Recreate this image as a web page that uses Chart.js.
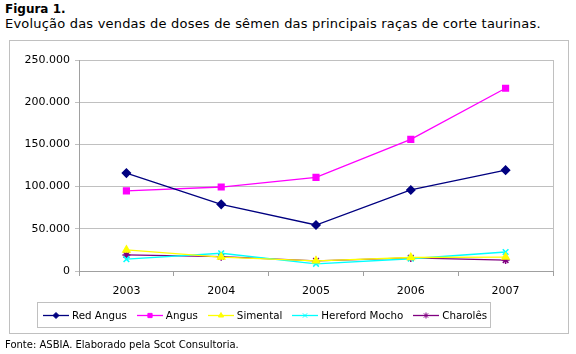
<!DOCTYPE html>
<html>
<head>
<meta charset="utf-8">
<script src="https://cdn.jsdelivr.net/npm/chart.js@4"></script>
<style>
  body { margin: 0; width: 576px; height: 354px; background: #fff; font-family: "DejaVu Sans", Verdana, sans-serif; color: #000; position: relative; overflow: hidden; }
  #t1 { position: absolute; left: 5px; top: 2px; font-size: 12px; font-weight: bold; }
  #t2 { position: absolute; left: 5px; top: 16px; font-size: 13px; letter-spacing: 0.2px; white-space: nowrap; }
  #box { position: absolute; left: 9px; top: 40px; width: 560px; height: 294px; border: 1px solid #c0c0c0; box-sizing: border-box; }
  #chart { position: absolute; left: 0; top: 0; }
  #legend { position: absolute; left: 37px; top: 302px; width: 454px; height: 26px; border: 1px solid #c0c0c0; box-sizing: border-box; font-size: 10.3px; display: flex; align-items: center; padding-left: 5px; white-space: nowrap; }
  #legend span.item { display: inline-flex; align-items: center; margin-right: 10px; flex-shrink: 0; }
  #legend canvas { margin-right: 3px; }
  #src { position: absolute; left: 5px; top: 339px; font-size: 10px; white-space: nowrap; }
</style>
</head>
<body>
<div id="t1">Figura 1.</div>
<div id="t2">Evolução das vendas de doses de sêmen das principais raças de corte taurinas.</div>
<div id="box"><canvas id="chart" width="558" height="292"></canvas></div>
<div id="legend"></div>
<div id="src">Fonte: ASBIA. Elaborado pela Scot Consultoria.</div>
<script>
const years = ['2003', '2004', '2005', '2006', '2007'];
const redAngus = [116000, 79000, 54500, 96000, 119500];
const angus = [95000, 99500, 111000, 156000, 216500];
const simental = [25000, 16500, 12000, 16000, 16500];
const herefordMocho = [14000, 21000, 8500, 14500, 22500];
const charoles = [19000, 17000, 12000, 15500, 13000];
const yTicks = [0, 50000, 100000, 150000, 200000, 250000];

const fmt = v => String(v).replace(/\B(?=(\d{3})+(?!\d))/g, '.');

const series = [
  { label: 'Red Angus', data: redAngus, color: '#000080', style: 'rectRot', r: 4 },
  { label: 'Angus', data: angus, color: '#ff00ff', style: 'rect', r: 4 },
  { label: 'Simental', data: simental, color: '#ffff00', style: 'triangle', r: 4 },
  { label: 'Hereford Mocho', data: herefordMocho, color: '#00ffff', style: 'crossRot', r: 4 },
  { label: 'Charolês', data: charoles, color: '#800080', style: 'star', r: 4 },
];

const plotFrame = {
  id: 'plotFrame',
  afterDraw(chart) {
    const a = chart.chartArea, ctx = chart.ctx;
    ctx.save();
    ctx.strokeStyle = '#c0c0c0';
    ctx.lineWidth = 1;
    ctx.beginPath();
    ctx.moveTo(Math.round(a.right) + 0.5, a.top);
    ctx.lineTo(Math.round(a.right) + 0.5, a.bottom);
    ctx.stroke();
    ctx.restore();
  }
};

const chart = new Chart(document.getElementById('chart'), {
  type: 'line',
  data: {
    labels: years,
    datasets: series.map(s => ({
      label: s.label,
      data: s.data,
      borderColor: s.color,
      backgroundColor: s.color,
      pointBorderColor: s.color,
      pointBackgroundColor: s.color,
      pointStyle: s.style,
      pointRadius: s.r,
      pointBorderWidth: 1.5,
      borderWidth: 1.3,
      tension: 0,
      fill: false,
    })),
  },
  options: {
    responsive: false,
    animation: false,
    layout: { padding: { top: 19, right: 15, left: 0, bottom: 0 } },
    plugins: { legend: { display: false }, tooltip: { enabled: false } },
    scales: {
      x: {
        offset: true,
        afterFit: s => { s.height = 62; },
        grid: { drawOnChartArea: false, offset: true, color: '#a0a0a0', tickLength: 5 },
        border: { color: '#a0a0a0' },
        ticks: { color: '#000', font: { family: 'DejaVu Sans', size: 11 }, padding: 9 },
      },
      y: {
        min: 0,
        max: 250000,
        afterFit: s => { s.width = 69; },
        afterBuildTicks: s => { s.ticks = yTicks.map(v => ({ value: v })); },
        grid: { color: '#c0c0c0', tickLength: 4 },
        border: { color: '#a0a0a0' },
        ticks: { color: '#000', font: { family: 'DejaVu Sans', size: 11 }, padding: 5, callback: v => fmt(v) },
      },
    },
  },
  plugins: [plotFrame],
});

// legend in a box, icons drawn with Chart.js's own point helper
const legend = document.getElementById('legend');
chart.data.datasets.forEach(ds => {
  const item = document.createElement('span');
  item.className = 'item';
  const c = document.createElement('canvas');
  c.width = 26; c.height = 10;
  const ctx = c.getContext('2d');
  ctx.strokeStyle = ds.borderColor;
  ctx.lineWidth = 1.3;
  ctx.beginPath(); ctx.moveTo(0, 5.5); ctx.lineTo(26, 5.5); ctx.stroke();
  ctx.fillStyle = ds.pointBackgroundColor;
  ctx.lineWidth = 1;
  Chart.helpers.drawPoint(ctx, { pointStyle: ds.pointStyle, radius: 3, rotation: 0, borderWidth: 1 }, 13, 5.5);
  const t = document.createElement('span');
  t.textContent = ds.label;
  item.appendChild(c); item.appendChild(t);
  legend.appendChild(item);
});
</script>
</body>
</html>
